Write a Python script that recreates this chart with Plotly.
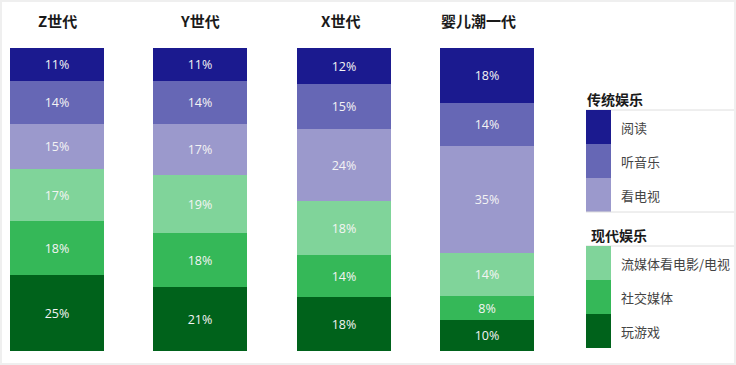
import plotly.graph_objects as go

W, H = 736, 365

# ---------------- data ----------------
generations = ["Z世代", "Y世代", "X世代", "婴儿潮一代"]
# series listed top-to-bottom as in the legend
series_names = ["阅读", "听音乐", "看电视", "流媒体看电影/电视", "社交媒体", "玩游戏"]
reading        = [11, 11, 12, 18]
music          = [14, 14, 15, 14]
tv             = [15, 17, 24, 35]
streaming      = [17, 19, 18, 14]
social_media   = [18, 18, 14, 8]
gaming         = [25, 21, 18, 10]
series_values = [reading, music, tv, streaming, social_media, gaming]
group_titles = ["传统娱乐", "现代娱乐"]
group_members = [series_names[:3], series_names[3:]]

colors = {
    "阅读": "#1b1a8f",
    "听音乐": "#6667b5",
    "看电视": "#9b99cc",
    "流媒体看电影/电视": "#80d49a",
    "社交媒体": "#35b858",
    "玩游戏": "#00621b",
}

CJK = "Noto Sans CJK SC"

fig = go.Figure()
# stack bottom-up
for name, vals in reversed(list(zip(series_names, series_values))):
    fig.add_trace(go.Bar(
        x=generations, y=vals, name=name,
        width=0.656,
        marker=dict(color=colors[name], line=dict(width=0)),
        text=[f"{v}%" for v in vals],
        textposition="inside", insidetextanchor="middle", textangle=0,
        constraintext="none",
        textfont=dict(family="Open Sans", size=12.5, color="#f4f4f4"),
        hoverinfo="skip",
    ))

def xp(px):
    return px / W

def yp(py):
    return 1 - py / H

shapes = [
    # white card on light-gray frame
    dict(type="rect", xref="paper", yref="paper", layer="below",
         x0=xp(2), x1=xp(734), y0=yp(363), y1=yp(2),
         fillcolor="white", line=dict(width=0)),
]
annotations = []

# generation titles above bars
title_shift = [0, 0, -3, -8]
for g, s in zip(generations, title_shift):
    annotations.append(dict(
        x=g, xref="x", y=yp(20), yref="paper", text=f"<b>{g}</b>",
        showarrow=False, xanchor="center", yanchor="middle", xshift=s,
        font=dict(family=CJK, size=15, color="#1a1a1a"),
    ))

# custom legend
row_h = 34
group_tops = [110, 246]
title_x = [585, 589]
for gi, (gt, members) in enumerate(zip(group_titles, group_members)):
    top = group_tops[gi]
    annotations.append(dict(
        x=xp(title_x[gi]), y=yp(top - 11), xref="paper", yref="paper",
        text=f"<b>{gt}</b>", showarrow=False, xanchor="left", yanchor="middle",
        font=dict(family=CJK, size=14, color="#1a1a1a"),
    ))
    shapes.append(dict(type="line", xref="paper", yref="paper",
                       x0=xp(586), x1=xp(734), y0=yp(top), y1=yp(top),
                       line=dict(color="#dedede", width=1)))
    for ri, m in enumerate(members):
        y0 = top + ri * row_h
        y1 = y0 + row_h
        shapes.append(dict(type="rect", xref="paper", yref="paper",
                           x0=xp(586), x1=xp(611), y0=yp(y1), y1=yp(y0),
                           fillcolor=colors[m], line=dict(width=0)))
        annotations.append(dict(
            x=xp(619), y=yp((y0 + y1) / 2), xref="paper", yref="paper",
            text=m, showarrow=False, xanchor="left", yanchor="middle",
            font=dict(family=CJK, size=13, color="#444444"),
        ))
    if gi == 0:
        bottom = top + len(members) * row_h
        shapes.append(dict(type="line", xref="paper", yref="paper",
                           x0=xp(586), x1=xp(734), y0=yp(bottom), y1=yp(bottom),
                           line=dict(color="#dedede", width=1)))

fig.update_layout(
    width=W, height=H,
    margin=dict(l=0, r=0, t=0, b=0, pad=0),
    paper_bgcolor="#efefef", plot_bgcolor="rgba(0,0,0,0)",
    barmode="stack", barnorm="percent", bargap=0,
    showlegend=False,
    xaxis=dict(visible=False, range=[-0.398, 4.738], domain=[0, 1]),
    yaxis=dict(visible=False, range=[0, 100], domain=[14 / H, 317 / H]),
    shapes=shapes, annotations=annotations,
    uniformtext=dict(mode=False),
)

fig.write_html(
    "out.html",
    config={"displayModeBar": False},
    post_script="document.body.style.margin='0';document.body.style.overflow='hidden';",
)
